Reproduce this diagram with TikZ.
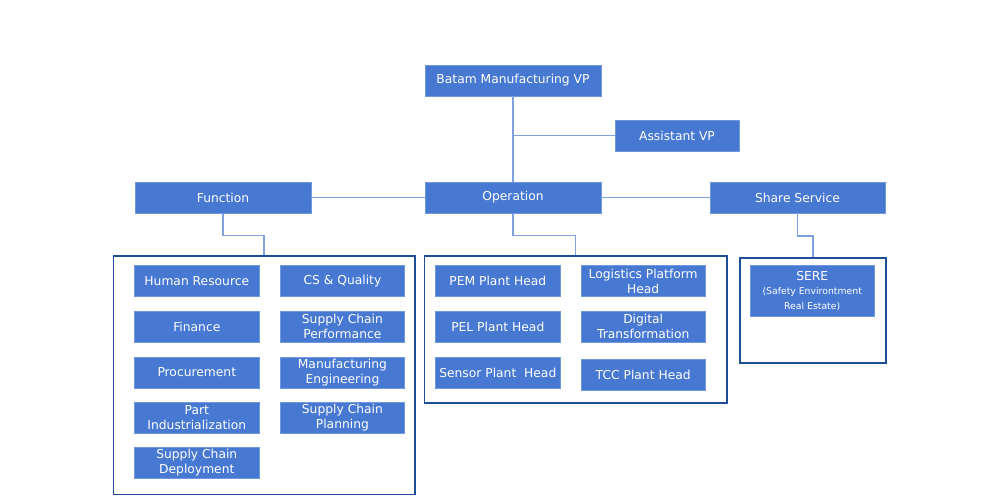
\documentclass[tikz,border=0pt]{standalone}
\usepackage{fontspec}
\setmainfont{DejaVu Sans}
\definecolor{boxblue}{HTML}{4779D3}
\definecolor{boxedge}{HTML}{6F98DE}
\definecolor{connblue}{HTML}{7EA1DE}
\definecolor{grpblue}{HTML}{1F4E99}
\begin{document}
\begin{tikzpicture}[x=1pt,y=-1pt,
  bx/.style={fill=boxblue,draw=boxedge,line width=0.6pt,text=white,inner sep=0pt,align=center,
    font=\fontsize{12.3}{15}\selectfont},
  topbox/.style={bx,minimum width=176pt,minimum height=31pt},
  itembox/.style={bx,minimum width=124.5pt,minimum height=31pt},
  grp/.style={draw=grpblue,line width=1.6pt,fill=white,inner sep=0pt},
  conn/.style={draw=connblue,line width=1.4pt}]
\useasboundingbox (0,0) rectangle (1000,500);
% top level
\node[topbox] (vp) at (513,80.5) {Batam Manufacturing VP};
\node[bx,minimum width=124pt,minimum height=31pt] (avp) at (677,135.5) {Assistant VP};
\node[topbox] (func) at (223,197.5) {Function};
\node[topbox] (oper) at (513,197.5) {Operation};
\node[topbox,minimum width=175pt] (share) at (797.5,197.5) {Share Service};
% connectors top
\draw[conn] (vp.south) -- (oper.north);
\draw[conn] (avp.west) -- (vp.south |- avp.west);
\draw[conn] (func.east) -- (oper.west);
\draw[conn] (oper.east) -- (share.west);
% groups
\node[grp,minimum width=301.7pt,minimum height=238.6pt] (fgrp) at (264.15,375) {};
\node[grp,minimum width=302.4pt,minimum height=147pt] (ogrp) at (575.5,329.2) {};
\node[grp,minimum width=145.7pt,minimum height=105pt] (sgrp) at (812.85,310.2) {};
\draw[conn] (func.south) -- ++(0,22) -| (fgrp.north);
\draw[conn] (oper.south) -- ++(0,22) -| (ogrp.north);
\draw[conn] (share.south) -- ++(0,22.5) -| (sgrp.north);
% function items
\node[itembox] (hr) at (196.8,281.2) {Human Resource};
\node[itembox] (fin) at (196.8,326.8) {Finance};
\node[itembox] (proc) at (196.8,372.4) {Procurement};
\node[itembox] (pi) at (196.8,418) {Part\\Industrialization};
\node[itembox] (scd) at (196.8,463) {Supply Chain\\Deployment};
\node[itembox] (csq) at (342.4,281.2) {CS \& Quality};
\node[itembox] (scp) at (342.4,326.8) {Supply Chain\\Performance};
\node[itembox] (me) at (342.4,372.4) {Manufacturing\\Engineering};
\node[itembox] (scpl) at (342.4,418) {Supply Chain\\Planning};
% operation items
\node[itembox] (pem) at (497.8,281.2) {PEM Plant Head};
\node[itembox] (pel) at (497.8,326.8) {PEL Plant Head};
\node[itembox] (sen) at (497.8,372.5) {Sensor Plant\ \ Head};
\node[itembox] (log) at (643.2,281.2) {Logistics Platform\\Head};
\node[itembox] (dig) at (643.2,326.8) {Digital\\Transformation};
\node[itembox] (tcc) at (643.2,374.6) {TCC Plant Head};
% share item
\node[bx,minimum width=124.3pt,minimum height=51pt] (sere) at (812.2,291.2)
  {SERE\\[-1pt]{\fontsize{9.3}{15}\selectfont (Safety Environtment}\\{\fontsize{9.3}{14}\selectfont Real Estate)}};
\end{tikzpicture}
\end{document}
